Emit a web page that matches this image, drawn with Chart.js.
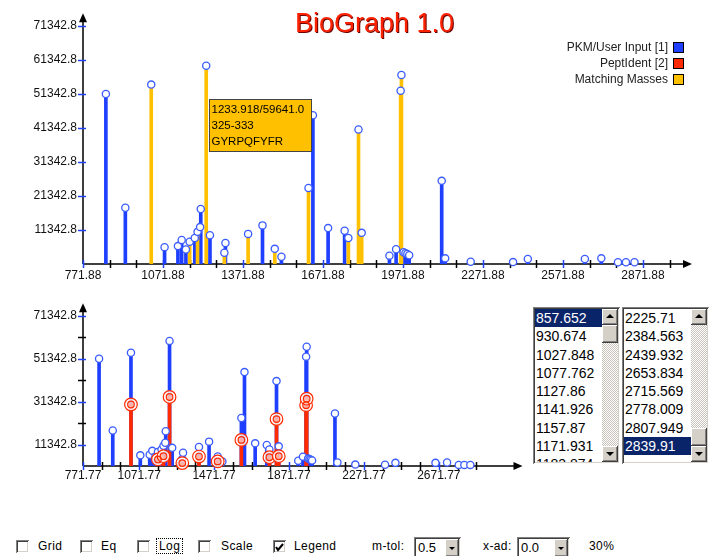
<!DOCTYPE html>
<html>
<head>
<meta charset="utf-8">
<script src="https://cdn.jsdelivr.net/npm/chart.js@4.4.0/dist/chart.umd.min.js"></script>
<style>
  body { margin:0; width:721px; height:556px; background:#fff; position:relative; overflow:hidden;
         font-family:"Liberation Sans", Arial, sans-serif; }
  #topChart { position:absolute; left:0; top:0; }
  #bottomChart { position:absolute; left:0; top:290px; }
  #title { position:absolute; left:295px; top:10px; font-size:27px; line-height:27px; color:#ff2200;
           text-shadow:1px 1px 0 #6a0000; white-space:nowrap; }
  #legend { position:absolute; right:37px; top:39px; font-size:12px; color:#222; }
  .leg-row { display:flex; justify-content:flex-end; align-items:center; height:16px; }
  .leg-box { width:9px; height:9px; border:1px solid #000; margin-left:5px; }

  .listbox { position:absolute; top:307px; width:87px; height:157px; background:#fff; overflow:hidden;
             box-shadow: inset 1px 1px #808080, inset -1px -1px #fff, inset 2px 2px #404040, inset -2px -2px #d4d0c8; }
  .rows { position:absolute; left:2px; top:2px; right:18px; bottom:2px; overflow:hidden; }
  .row { height:18.3px; line-height:18.3px; font-size:14px; padding-left:1px; color:#000; white-space:nowrap; }
  .row.sel { background:#0a246a; color:#fff; }
  .sb { position:absolute; top:2px; bottom:2px; right:2px; width:16px;
        background: repeating-conic-gradient(#c8c4bc 0 25%, #fff 0 50%) 0 0/2px 2px; }
  .btn { position:absolute; left:0; width:16px; height:16px; background:#d4d0c8;
         box-shadow: inset -1px -1px #404040, inset 1px 1px #fff, inset -2px -2px #808080; }
  .up::after, .down::after { content:""; position:absolute; left:4px; width:0; height:0;
         border-left:4px solid transparent; border-right:4px solid transparent; }
  .up::after { top:5px; border-bottom:4px solid #000; }
  .down::after { top:6px; border-top:4px solid #000; }

  .cb { position:absolute; top:540px; width:13px; height:13px; box-sizing:border-box; background:#fff;
        box-shadow: inset 1px 1px #808080, inset -1px -1px #fff, inset 2px 2px #404040, inset -2px -2px #d4d0c8; }
  .lbl { position:absolute; top:539px; font-size:12px; line-height:14px; color:#000; letter-spacing:0.4px; }
  .sel-box { position:absolute; top:537px; height:22px; background:#fff; box-sizing:border-box;
        box-shadow: inset 1px 1px #808080, inset -1px -1px #fff, inset 2px 2px #404040, inset -2px -2px #d4d0c8; }
  .sel-box span { position:absolute; left:4px; top:4px; font-size:13px; line-height:14px; }
  .sel-box .btn { left:auto; right:2px; top:2px; width:14px; height:18px; }
  .sel-box .btn::after { content:""; position:absolute; left:4px; top:8px; border-left:3px solid transparent;
        border-right:3px solid transparent; border-top:3px solid #000; }
</style>
</head>
<body>
<canvas id="topChart" width="721" height="290"></canvas>
<canvas id="bottomChart" width="530" height="200"></canvas>
<div id="title">BioGraph 1.0</div>
<div id="legend"></div>
<div id="lists"></div>

<div class="cb" style="left:16px"></div><div class="lbl" style="left:38px">Grid</div>
<div class="cb" style="left:80px"></div><div class="lbl" style="left:101px">Eq</div>
<div class="cb" style="left:137px"></div><div class="lbl" style="left:156px;top:538px;border:1px dotted #000;padding:0 2px">Log</div>
<div class="cb" style="left:198px"></div><div class="lbl" style="left:221px">Scale</div>
<div class="cb" style="left:273px"><svg width="13" height="13"><polyline points="3,6 5,9 10,3" fill="none" stroke="#000" stroke-width="2"/></svg></div>
<div class="lbl" style="left:294px">Legend</div>
<div class="lbl" style="left:372px">m-tol:</div>
<div class="sel-box" style="left:414px;width:47px"><span>0.5</span><div class="btn"></div></div>
<div class="lbl" style="left:483px">x-ad:</div>
<div class="sel-box" style="left:517px;width:53px"><span>0.0</span><div class="btn"></div></div>
<div class="lbl" style="left:589px">30%</div>

<script>
// PKM / user input peaks (m/z, intensity)
const pkmMz = [857.652, 930.674, 1027.848, 1077.762, 1127.86, 1141.926, 1157.87, 1171.931, 1191.0, 1201.5,
  1211.0, 1213.5, 1233.918, 1248.0, 1302.0, 1306.0, 1391.0, 1445.0, 1491.0, 1516.0,
  1617.5, 1634.0, 1691.0, 1753.0, 1767.0, 1805.0, 1817.0, 1921.0, 1946.0, 1963.0,
  1966.0, 1974.0, 1981.0, 1988.0, 1995.0, 2117.0, 2130.0, 2225.71, 2384.563, 2439.932,
  2653.834, 2715.569, 2778.009, 2807.949, 2839.91];
const pkmInt = [51350, 17900, 54100, 6300, 6600, 8400, 5600, 7900, 9000, 10800,
  12200, 17500, 59641, 9800, 4650, 7500, 10200, 12700, 5800, 3480,
  23700, 45100, 11900, 11100, 9000, 40900, 10500, 3800, 5700, 52300,
  56900, 4800, 4500, 4300, 3900, 25800, 3000, 2000, 1900, 2800,
  2800, 3000, 1850, 1850, 1850];

// PeptIdent peaks
const peptMz = [1027.848, 1171.931, 1201.5, 1233.918, 1302.0, 1391.0, 1491.0, 1617.5, 1767.0, 1805.0, 1817.0, 1963.0, 1966.0];
const peptInt = [30000, 4400, 5900, 33500, 2700, 5750, 3480, 13500, 5430, 23200, 5900, 29700, 32700];

const mTol = 0.5;
const seriesNames = ['PKM/User Input [1]', 'PeptIdent [2]', 'Matching Masses'];
const seriesColors = ['#1f3fff', '#ff2a00', '#ffc000'];

// axis ticks
const topXTicks = [771.88, 871.88, 971.88, 1071.88, 1171.88, 1271.88, 1371.88, 1471.88, 1571.88, 1671.88, 1771.88,
  1871.88, 1971.88, 2071.88, 2171.88, 2271.88, 2371.88, 2471.88, 2571.88, 2671.88, 2771.88, 2871.88, 2971.88];
const topXLabels = ['771.88', '1071.88', '1371.88', '1671.88', '1971.88', '2271.88', '2571.88', '2871.88'];
const topYTicks = [11342.8, 21342.8, 31342.8, 41342.8, 51342.8, 61342.8, 71342.8];
const topYLabels = ['11342.8', '21342.8', '31342.8', '41342.8', '51342.8', '61342.8', '71342.8'];
const botXTicks = [771.77, 871.77, 971.77, 1071.77, 1171.77, 1271.77, 1371.77, 1471.77, 1571.77, 1671.77, 1771.77,
  1871.77, 1971.77, 2071.77, 2171.77, 2271.77, 2371.77, 2471.77, 2571.77, 2671.77, 2771.77, 2871.77];
const botXLabels = ['771.77', '1071.77', '1471.77', '1871.77', '2271.77', '2671.77'];
const botYTicks = [11342.8, 21342.8, 31342.8, 41342.8, 51342.8, 61342.8, 71342.8];
const botYLabels = ['11342.8', '31342.8', '51342.8', '71342.8'];

// hovered peak label
const tipMz = 1233.918;
const tipInt = 59641.0;
const tipLines = ['1233.918/59641.0', '325-333', 'GYRPQFYFR'];

// list box contents
const leftList = ['857.652', '930.674', '1027.848', '1077.762', '1127.86', '1141.926', '1157.87', '1171.931', '1183.874'];
const rightList = ['2225.71', '2384.563', '2439.932', '2653.834', '2715.569', '2778.009', '2807.949', '2839.91'];

Chart.defaults.font.family = '"Liberation Sans", Arial, sans-serif';

const blue = seriesColors[0], red = seriesColors[1], yellow = seriesColors[2];
const ringBlue = '#3a5cff';

function isMatched(m) { return peptMz.some(p => Math.abs(p - m) <= mTol); }

const pkmPts = pkmMz.map((m, i) => ({x: m, y: pkmInt[i]}));
const pkmOnly = pkmPts.filter(p => !isMatched(p.x));
const pkmMatched = pkmPts.filter(p => isMatched(p.x));
const peptPts = peptMz.map((m, i) => ({x: m, y: peptInt[i]}));

// axis lines with arrows and tick marks
const axisArrows = {
  id: 'axisArrows',
  beforeDatasetsDraw(chart) {
    const {ctx, chartArea: a, scales: {x, y}} = chart;
    ctx.save();
    ctx.strokeStyle = '#000';
    ctx.lineWidth = 1.5;
    ctx.beginPath();
    ctx.moveTo(a.left, a.bottom); ctx.lineTo(a.left, a.top + 6);
    ctx.moveTo(a.left, a.bottom); ctx.lineTo(a.right - 6, a.bottom);
    ctx.stroke();
    ctx.fillStyle = '#000';
    ctx.beginPath();
    ctx.moveTo(a.left, a.top); ctx.lineTo(a.left - 4, a.top + 9); ctx.lineTo(a.left + 4, a.top + 9);
    ctx.fill();
    ctx.beginPath();
    ctx.moveTo(a.right, a.bottom); ctx.lineTo(a.right - 9, a.bottom - 4); ctx.lineTo(a.right - 9, a.bottom + 4);
    ctx.fill();
    x.ticks.forEach(t => {
      const px = Math.round(x.getPixelForValue(t.value)) + 0.5;
      ctx.strokeStyle = t.label ? '#2040ff' : '#000';
      ctx.beginPath(); ctx.moveTo(px, a.bottom - 4); ctx.lineTo(px, a.bottom + 4); ctx.stroke();
    });
    y.ticks.forEach(t => {
      const py = Math.round(y.getPixelForValue(t.value)) + 0.5;
      ctx.strokeStyle = t.label ? '#2040ff' : '#000';
      ctx.beginPath(); ctx.moveTo(a.left - 5, py); ctx.lineTo(a.left + 3, py); ctx.stroke();
    });
    ctx.restore();
  }
};

const peakLabel = {
  id: 'peakLabel',
  afterDatasetsDraw(chart) {
    const {ctx, scales: {x, y}} = chart;
    const bx = Math.round(x.getPixelForValue(tipMz)) + 3.5;
    const by = Math.round(y.getPixelForValue(tipInt)) + 33.5;
    ctx.save();
    ctx.fillStyle = yellow;
    ctx.fillRect(bx, by, 102, 52);
    ctx.strokeStyle = '#444';
    ctx.lineWidth = 1;
    ctx.strokeRect(bx, by, 102, 52);
    ctx.fillStyle = '#000';
    ctx.font = '11.5px "Liberation Sans", Arial, sans-serif';
    ctx.textBaseline = 'middle';
    tipLines.forEach((s, i) => ctx.fillText(s, bx + 2, by + 10 + i * 16));
    ctx.restore();
  }
};

function axes(xMin, xMax, yMax, xTicks, xLabels, yTicks, yLabels, xHeight, xPad) {
  return {
    x: {
      type: 'linear', min: xMin, max: xMax, offset: false,
      grid: {display: false, drawTicks: false}, border: {display: false},
      afterBuildTicks: s => { s.ticks = xTicks.map(v => ({value: v})); },
      afterFit: s => { s.height = xHeight; },
      ticks: {
        autoSkip: false, maxRotation: 0, padding: xPad, color: '#111', font: {size: 12},
        callback: v => xLabels.includes(v.toFixed(2)) ? v.toFixed(2) : ''
      }
    },
    y: {
      type: 'linear', min: 1342.8, max: yMax,
      grid: {display: false, drawTicks: false}, border: {display: false},
      afterBuildTicks: s => { s.ticks = yTicks.map(v => ({value: v})); },
      afterFit: s => { s.width = 83; },
      ticks: {
        autoSkip: false, padding: 6, color: '#111', font: {size: 12},
        callback: v => yLabels.includes(v.toFixed(1)) ? v.toFixed(1) : ''
      }
    }
  };
}

new Chart(document.getElementById('topChart'), {
  type: 'bar',
  data: {
    datasets: [
      {type: 'scatter', label: 'peaks', data: pkmPts, pointRadius: 3.6, pointBorderWidth: 1.3,
       pointBorderColor: ringBlue, pointBackgroundColor: '#fff', clip: false, order: 1},
      {type: 'bar', label: seriesNames[2], data: pkmMatched, backgroundColor: yellow,
       barThickness: 3, grouped: false, order: 2},
      {type: 'bar', label: seriesNames[0], data: pkmOnly, backgroundColor: blue,
       barThickness: 3, grouped: false, order: 3}
    ]
  },
  options: {
    responsive: false, animation: false,
    layout: {padding: {top: 12, right: 29, left: 0, bottom: 0}},
    plugins: {legend: {display: false}, tooltip: {enabled: false}},
    scales: axes(771.88, 3055.6, 75092, topXTicks, topXLabels, topYTicks, topYLabels, 26, 4)
  },
  plugins: [axisArrows, peakLabel]
});

new Chart(document.getElementById('bottomChart'), {
  type: 'bar',
  data: {
    datasets: [
      {type: 'scatter', label: 'pept inner', data: peptPts, pointRadius: 3.3, pointBorderWidth: 1.2,
       pointBorderColor: red, pointBackgroundColor: 'rgba(255,42,0,0.25)', clip: false, order: 0},
      {type: 'scatter', label: 'pept outer', data: peptPts, pointRadius: 6.3, pointBorderWidth: 1.2,
       pointBorderColor: red, pointBackgroundColor: 'rgba(255,255,255,0.85)', clip: false, order: 1},
      {type: 'scatter', label: 'pkm rings', data: pkmPts, pointRadius: 3.6, pointBorderWidth: 1.3,
       pointBorderColor: ringBlue, pointBackgroundColor: '#fff', clip: false, order: 2},
      {type: 'bar', label: seriesNames[1], data: peptPts, backgroundColor: red,
       barThickness: 3, grouped: false, order: 3},
      {type: 'bar', label: seriesNames[0], data: pkmPts, backgroundColor: blue,
       barThickness: 3, grouped: false, order: 4}
    ]
  },
  options: {
    responsive: false, animation: false,
    layout: {padding: {top: 9, right: 7, left: 0, bottom: 0}},
    plugins: {legend: {display: false}, tooltip: {enabled: false}},
    scales: axes(771.77, 3118.4, 77200, botXTicks, botXLabels, botYTicks, botYLabels, 24, 2)
  },
  plugins: [axisArrows]
});

// legend
const legend = document.getElementById('legend');
seriesNames.forEach((name, i) => {
  const row = document.createElement('div');
  row.className = 'leg-row';
  row.innerHTML = '<span>' + name + '</span><div class="leg-box" style="background:' + seriesColors[i] + '"></div>';
  legend.appendChild(row);
});

// peak list boxes
function buildList(values, selIndex, left, thumbTop) {
  const box = document.createElement('div');
  box.className = 'listbox';
  box.style.left = left + 'px';
  const rows = document.createElement('div');
  rows.className = 'rows';
  values.forEach((v, i) => {
    const r = document.createElement('div');
    r.className = 'row' + (i === selIndex ? ' sel' : '');
    r.textContent = v;
    rows.appendChild(r);
  });
  box.appendChild(rows);
  const sb = document.createElement('div');
  sb.className = 'sb';
  sb.innerHTML = '<div class="btn up" style="top:0"></div>' +
    '<div class="btn" style="top:' + thumbTop + 'px;height:18px"></div>' +
    '<div class="btn down" style="bottom:0"></div>';
  box.appendChild(sb);
  document.getElementById('lists').appendChild(box);
}
buildList(leftList, 0, 533, 16);
buildList(rightList, 7, 622, 119);
</script>
</body>
</html>
